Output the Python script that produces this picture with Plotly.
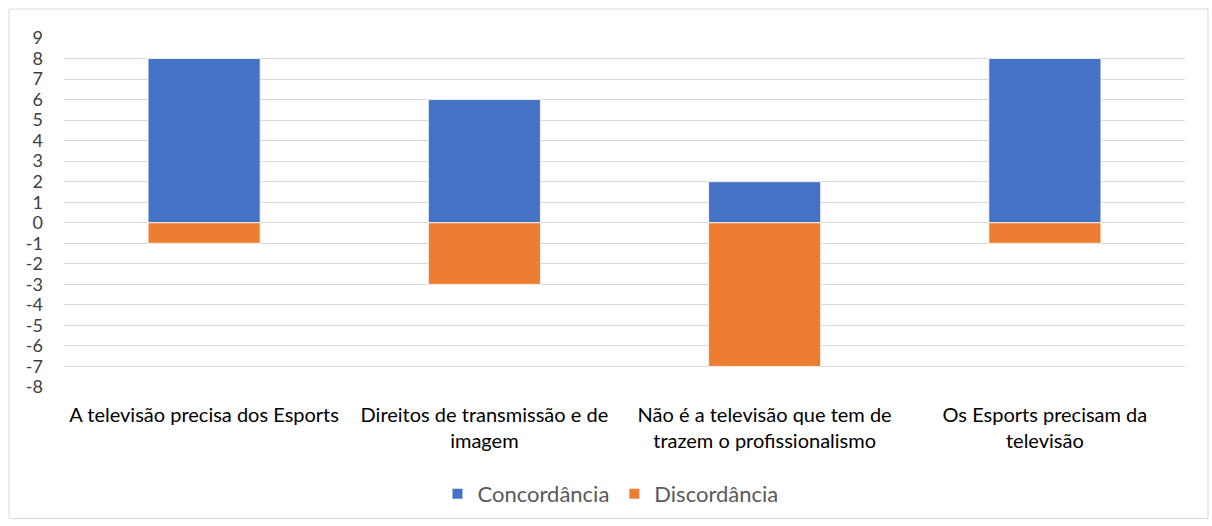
import plotly.graph_objects as go

categories = [
    "A televisão precisa dos Esports",
    "Direitos de transmissão e de<br>imagem",
    "Não é a televisão que tem de<br>trazem o profissionalismo",
    "Os Esports precisam da<br>televisão",
]
concordancia = [8, 6, 2, 8]
discordancia = [-1, -3, -7, -1]
y_ticks = list(range(-8, 10))

FONT = "Lato, sans-serif"

fig = go.Figure()
fig.add_trace(go.Bar(name="Concordância", x=categories, y=concordancia,
                     marker=dict(color="#4472C4", line=dict(color="white", width=0.8))))
fig.add_trace(go.Bar(name="Discordância", x=categories, y=discordancia,
                     marker=dict(color="#ED7D31", line=dict(color="white", width=0.8))))

fig.update_layout(
    width=1212, height=526,
    barmode="relative", bargap=0.6,
    plot_bgcolor="white", paper_bgcolor="white",
    margin=dict(l=64, r=27, t=38, b=138),
    font=dict(family=FONT, size=20, color="#000000"),
    showlegend=True,
    legend=dict(orientation="h", x=0.4875, xanchor="center", y=-0.303, yanchor="middle",
                font=dict(size=22, color="#595959"), itemwidth=30,
                traceorder="normal", itemsizing="constant"),
    shapes=[dict(type="rect", xref="paper", yref="paper",
                 x0=-0.049, x1=1.0205, y0=-0.377, y1=1.083,
                 line=dict(color="#d9d9d9", width=1), fillcolor="rgba(0,0,0,0)", layer="below")],
)
fig.update_yaxes(range=[-8, 9], tickvals=y_ticks, ticktext=[str(v) for v in y_ticks],
                 showgrid=True, gridcolor="#d9d9d9", gridwidth=1,
                 zeroline=False, showline=False, ticks="",
                 tickfont=dict(size=18, color="#404040"), ticklabelstandoff=20)
fig.update_xaxes(showgrid=False, showline=False, ticks="", zeroline=False,
                 tickfont=dict(size=20, color="#000000"), ticklabelstandoff=14)

fig.write_html("out.html", config={"displayModeBar": False},
               post_script="document.body.style.margin='0';")
